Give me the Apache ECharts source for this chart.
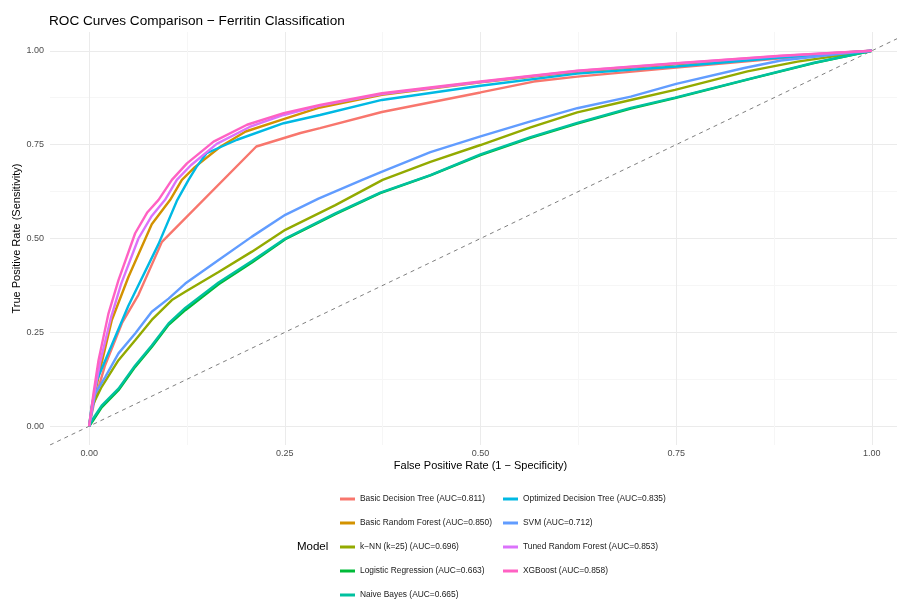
<!DOCTYPE html>
<html>
<head>
<meta charset="utf-8">
<script src="https://cdn.jsdelivr.net/npm/echarts@6/dist/echarts.min.js"></script>
<style>
  html, body { margin: 0; padding: 0; background: #ffffff; }
  #chart { width: 897px; height: 601px; }
</style>
</head>
<body>
<div id="chart"></div>
<script>
// Axis ticks and labels
const majorTicks = [0, 0.25, 0.5, 0.75, 1];
const minorTicks = [0.125, 0.375, 0.625, 0.875];
const tickLabels = ['0.00', '0.25', '0.50', '0.75', '1.00'];
const xTitle = 'False Positive Rate (1 − Specificity)';
const yTitle = 'True Positive Rate (Sensitivity)';

// Models (legend order) and their colours
const modelNames = [
  'Basic Decision Tree (AUC=0.811)',
  'Basic Random Forest (AUC=0.850)',
  'k−NN (k=25) (AUC=0.696)',
  'Logistic Regression (AUC=0.663)',
  'Naive Bayes (AUC=0.665)',
  'Optimized Decision Tree (AUC=0.835)',
  'SVM (AUC=0.712)',
  'Tuned Random Forest (AUC=0.853)',
  'XGBoost (AUC=0.858)'
];
const modelColors = ['#F8766D', '#D39200', '#93AA00', '#00BA38', '#00C19F', '#00B9E3', '#619CFF', '#DB72FB', '#FF61C3'];

// ROC points: [false positive rate, true positive rate]
const basicDecisionTree = [[0,0],[0.006,0.06],[0.02,0.16],[0.042,0.275],[0.063,0.35],[0.093,0.491],[0.2136,0.745],[0.27,0.781],[0.295,0.794],[0.374,0.837],[0.5,0.889],[0.568,0.918],[0.6236,0.931],[0.75,0.955],[0.884,0.98],[1,1]];
const basicRandomForest = [[0,0],[0.006,0.075],[0.015,0.16],[0.029,0.283],[0.0503,0.398],[0.08,0.538],[0.1036,0.603],[0.1185,0.656],[0.135,0.69],[0.168,0.745],[0.2,0.785],[0.2485,0.818],[0.295,0.849],[0.374,0.883],[0.5,0.916],[0.6236,0.944],[0.75,0.964],[0.884,0.985],[1,1]];
const knn = [[0,0],[0.0034,0.051],[0.016,0.105],[0.0375,0.176],[0.0588,0.229],[0.08,0.283],[0.1057,0.336],[0.1228,0.358],[0.1654,0.411],[0.208,0.465],[0.2506,0.523],[0.3146,0.589],[0.375,0.656],[0.436,0.704],[0.5,0.749],[0.564,0.796],[0.6236,0.836],[0.692,0.869],[0.7485,0.896],[0.841,0.945],[0.905,0.971],[1,1]];
const logisticRegression = [[0,0],[0.005,0.015],[0.016,0.05],[0.0375,0.096],[0.0588,0.158],[0.08,0.211],[0.1015,0.27],[0.1228,0.309],[0.1654,0.378],[0.208,0.436],[0.2506,0.498],[0.3146,0.565],[0.372,0.621],[0.436,0.668],[0.5,0.722],[0.564,0.768],[0.6236,0.806],[0.692,0.846],[0.7485,0.874],[0.841,0.923],[0.926,0.967],[1,1]];
const naiveBayes = [[0,0],[0.005,0.02],[0.016,0.055],[0.0375,0.1],[0.0588,0.162],[0.08,0.215],[0.1015,0.274],[0.1228,0.315],[0.1654,0.383],[0.208,0.44],[0.2506,0.5],[0.3146,0.567],[0.372,0.622],[0.436,0.669],[0.5,0.724],[0.564,0.77],[0.6236,0.808],[0.692,0.848],[0.7485,0.875],[0.841,0.924],[0.926,0.968],[1,1]];
const optimizedDecisionTree = [[0,0],[0.003,0.05],[0.01,0.123],[0.05,0.32],[0.0886,0.485],[0.112,0.6],[0.127,0.656],[0.137,0.69],[0.15,0.727],[0.189,0.763],[0.2485,0.807],[0.295,0.829],[0.374,0.869],[0.5,0.907],[0.6236,0.939],[0.75,0.958],[0.884,0.982],[1,1]];
const svm = [[0,0],[0.0077,0.087],[0.0205,0.131],[0.0375,0.194],[0.0588,0.247],[0.08,0.305],[0.1015,0.34],[0.1228,0.38],[0.1654,0.443],[0.208,0.505],[0.2506,0.563],[0.293,0.606],[0.349,0.656],[0.372,0.676],[0.436,0.73],[0.5,0.772],[0.564,0.812],[0.6236,0.847],[0.692,0.878],[0.75,0.912],[0.837,0.954],[0.884,0.974],[0.969,0.994],[1,1]];
const tunedRandomForest = [[0,0],[0.006,0.08],[0.014,0.17],[0.028,0.29],[0.041,0.38],[0.063,0.5],[0.08,0.56],[0.097,0.603],[0.112,0.656],[0.13,0.695],[0.163,0.752],[0.205,0.797],[0.2485,0.829],[0.295,0.854],[0.374,0.885],[0.5,0.917],[0.6236,0.946],[0.75,0.966],[0.884,0.986],[1,1]];
const xgboost = [[0,0],[0.0055,0.087],[0.012,0.176],[0.0247,0.3],[0.0375,0.389],[0.0588,0.514],[0.0745,0.57],[0.0887,0.603],[0.1057,0.656],[0.125,0.7],[0.159,0.758],[0.2017,0.803],[0.2485,0.834],[0.295,0.856],[0.374,0.887],[0.5,0.918],[0.6236,0.947],[0.75,0.967],[0.884,0.987],[1,1]];

// Chance line endpoints
const chanceLine = [[-0.05, -0.05], [1.05, 1.05]];

const curves = [basicDecisionTree, basicRandomForest, knn, logisticRegression, naiveBayes,
                optimizedDecisionTree, svm, tunedRandomForest, xgboost];

const FONT = 'Liberation Sans, Arial, Helvetica, sans-serif';
const fmtTick = v => {
  const i = majorTicks.indexOf(v);
  return i >= 0 ? tickLabels[i] : '';
};

function makeAxis(isX, isMajor) {
  const ticks = isMajor ? majorTicks : minorTicks;
  return {
    type: 'value',
    min: -0.05,
    max: 1.05,
    axisLine: { show: false },
    axisTick: { show: false, customValues: ticks },
    axisLabel: isMajor
      ? { customValues: ticks, formatter: fmtTick, color: '#4d4d4d', fontSize: 9, fontFamily: FONT, margin: isX ? 4 : 6 }
      : { show: false, customValues: ticks },
    splitLine: { show: true, lineStyle: { color: isMajor ? '#ebebeb' : '#f6f6f6', width: 1 } },
    silent: true
  };
}

const series = [{
  name: 'chance',
  type: 'line',
  data: chanceLine,
  showSymbol: false,
  silent: true,
  lineStyle: { color: '#7f7f7f', width: 1, type: [4, 4] },
  z: 1
}];
modelNames.forEach((name, i) => {
  series.push({
    name: name,
    type: 'line',
    data: curves[i],
    showSymbol: false,
    smooth: false,
    lineStyle: { color: modelColors[i], width: 2.4 },
    itemStyle: { color: modelColors[i] },
    z: 2
  });
});

const legendCommon = {
  orient: 'vertical',
  top: 489,
  height: 110,
  itemWidth: 15,
  itemHeight: 3,
  itemGap: 14,
  icon: 'rect',
  selectedMode: false,
  textStyle: { color: '#1a1a1a', fontSize: 8.4, fontFamily: FONT, lineHeight: 10 }
};

const GRID = { left: 50, top: 32, width: 861, height: 413 };

const chart = echarts.init(document.getElementById('chart'), null, { renderer: 'canvas' });
chart.setOption({
  backgroundColor: '#ffffff',
  animation: false,
  title: {
    text: 'ROC Curves Comparison − Ferritin Classification',
    left: 44,
    top: 9,
    textStyle: { color: '#000000', fontSize: 13.6, fontWeight: 'normal', fontFamily: FONT }
  },
  grid: Object.assign({ containLabel: false, outerBoundsMode: 'none' }, GRID),
  xAxis: [makeAxis(true, true), makeAxis(true, false)],
  yAxis: [makeAxis(false, true), makeAxis(false, false)],
  legend: [
    Object.assign({}, legendCommon, { left: 335, data: modelNames.slice(0, 5) }),
    Object.assign({}, legendCommon, { left: 498, data: modelNames.slice(5) })
  ],
  graphic: [
    {
      type: 'text',
      left: 297,
      top: 541,
      style: { text: 'Model', fill: '#000000', font: '11.5px ' + FONT }
    },
    {
      // x-axis title, centred under the panel
      type: 'text',
      x: GRID.left + GRID.width / 2,
      y: 466,
      style: { text: xTitle, fill: '#000000', font: '11px ' + FONT, align: 'center', verticalAlign: 'middle' }
    },
    {
      // y-axis title, rotated and centred beside the panel
      type: 'text',
      x: 17,
      y: GRID.top + GRID.height / 2,
      rotation: Math.PI / 2,
      style: { text: yTitle, fill: '#000000', font: '11px ' + FONT, align: 'center', verticalAlign: 'middle' }
    }
  ],
  series: series
});
</script>
</body>
</html>
